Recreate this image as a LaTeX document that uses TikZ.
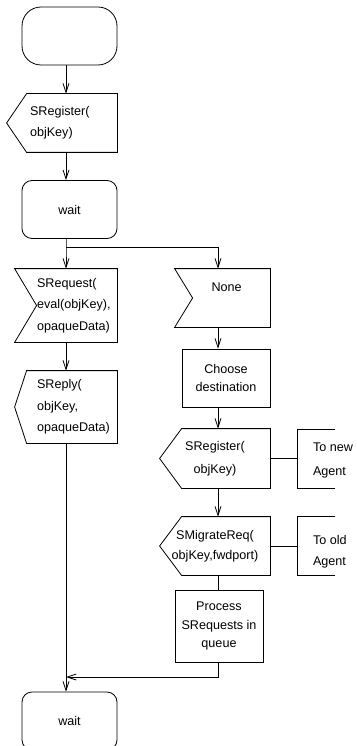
\documentclass[tikz,border=0pt]{standalone}
\usepackage{fontspec}
\setmainfont{Liberation Sans}
\usetikzlibrary{arrows.meta}
\hyphenpenalty=10000

\newcommand{\boxfont}[1]{\fontsize{12.6}{#1}\selectfont}
% outlines of the SDL send and receive symbols
\newcommand{\sendsym}[2]{\draw (#1.north east) -- ([xshift=#2]#1.north west) -- (#1.west) -- ([xshift=#2]#1.south west) -- (#1.south east) -- cycle;}
\newcommand{\recvsym}[2]{\draw (#1.north west) -- (#1.north east) -- (#1.south east) -- (#1.south west) -- ([xshift=#2]#1.west) -- cycle;}

\begin{document}
\begin{tikzpicture}[x=1pt, y=-1pt, line width=0.8pt,
    >={Straight Barb[length=9pt,width=6pt]},
    font=\boxfont{20},
    box/.style = {rectangle, inner sep=0pt, minimum height=58pt},
    startbox/.style = {box, draw, rounded corners=19pt, minimum width=95pt},
    waitbox/.style = {box, draw, rounded corners=10pt, minimum width=95pt},
    taskbox/.style = {box, draw, minimum width=88pt, align=center},
    sigbox/.style = {box, align=center},
    notebox/.style = {box, minimum width=37pt}]

    \useasboundingbox (0,0) rectangle (356,746);
    \coordinate (spine) at (66,0);
    \coordinate (rspine) at (218,0);
    \coordinate (fork) at (66,247);
    \coordinate (merge) at (66,677);

    % left column
    \node[startbox] (start) at (69.5,36) {};
    \node[sigbox, minimum width=110pt, text width=64pt, align=left, font=\boxfont{21}] (reg) at (62,123) {SRegister(\\objKey)};
    \node[waitbox] (wait) at (69.5,209.5) {wait};
    \node[sigbox, minimum width=102pt, minimum height=73pt, text width=58pt, align=left, font=\boxfont{21.5}] (req) at (66,305.5) {SRequest(\\eval(objKey),\\opaqueData)};
    \node[sigbox, minimum width=102pt, minimum height=72pt, text width=58pt, align=left, font=\boxfont{21.5}] (rep) at (66,407) {SReply(\\objKey,\\opaqueData)};
    \node[waitbox] (wait2) at (69.5,721) {wait};

    % right column
    \node[sigbox, minimum width=95pt, text width=22pt, align=left, font=\boxfont{21}] (none) at (222.5,298) {None\\~};
    \node[taskbox, font=\boxfont{18.5}] (choose) at (226,378) {Choose\\destination};
    \node[sigbox, minimum width=110pt, minimum height=59pt, font=\boxfont{23}] (reg2) at (215,458.5) {SRegister(\\objKey)};
    \node[sigbox, minimum width=110pt, font=\boxfont{20}] (mig) at (215,546) {SMigrateReq(\\objKey,fwdport)};
    \node[taskbox, minimum height=72pt, font=\boxfont{18.5}] (proc) at (219,626) {Process\\SRequests in\\queue};

    % comments
    \node[notebox, label={[anchor=west, inner sep=0pt, xshift=15pt, yshift=-2pt, align=left, font=\boxfont{24}]west:To new\\Agent}] (tonew) at (316.5,458.5) {};
    \node[notebox, label={[anchor=west, inner sep=0pt, xshift=15pt, yshift=-6pt, align=left, font=\boxfont{21}]west:To old\\Agent}] (toold) at (316.5,546) {};

    \sendsym{reg}{20pt}
    \recvsym{req}{22pt}
    \sendsym{rep}{12pt}
    \recvsym{none}{18pt}
    \sendsym{reg2}{22pt}
    \sendsym{mig}{22pt}
    \draw (tonew.north east) -- (tonew.north west) -- (tonew.south west) -- (tonew.south east);
    \draw (toold.north east) -- (toold.north west) -- (toold.south west) -- (toold.south east);

    \draw[->] (start.south -| spine) -- (reg.north -| spine);
    \draw[->] (reg.south -| spine) -- (wait.north -| spine);
    \draw[->] (wait.south -| spine) -- (fork) -- (req.north -| spine);
    \draw[->] (fork) -| (none.north -| rspine);
    \draw[->] (req.south -| spine) -- (rep.north -| spine);
    \draw[->] (rep.south -| spine) -- (wait2.north -| spine);
    \draw[->] (none.south -| rspine) -- (choose.north -| rspine);
    \draw[->] (choose.south -| rspine) -- (reg2.north -| rspine);
    \draw[->] (reg2.south -| rspine) -- (mig.north -| rspine);
    \draw (mig.south -| rspine) -- (proc.north -| rspine);
    \draw[->] (proc.south -| rspine) |- (merge);
    \draw (reg2.east) -- (tonew.west);
    \draw (mig.east) -- (toold.west);

\end{tikzpicture}
\end{document}
